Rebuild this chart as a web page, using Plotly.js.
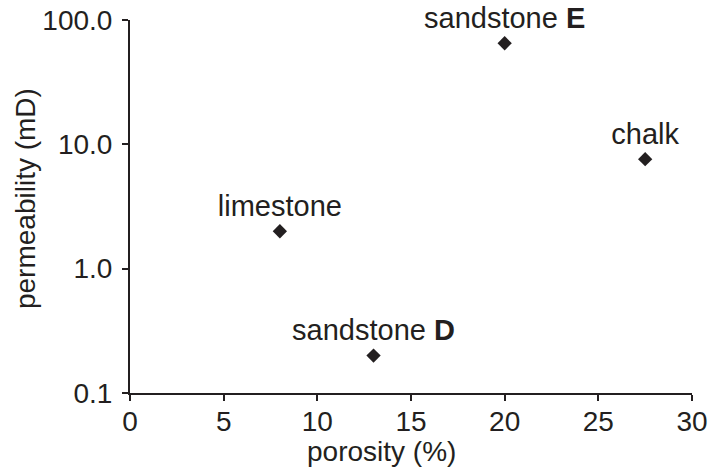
<!DOCTYPE html>
<html>
<head>
<meta charset="utf-8">
<script src="https://cdn.plot.ly/plotly-3.0.1.min.js"></script>
<style>html,body{margin:0;padding:0;background:#fff;}#chart{width:709px;height:469px;}</style>
</head>
<body>
<div id="chart"></div>
<script>
const rockNames = ["limestone", "sandstone <b>D</b>", "sandstone <b>E</b>", "chalk"];
const porosity = [8, 13, 20, 27.5];
const permeability = [2.0, 0.2, 65, 7.6];
const yTickVals = [0.1, 1, 10, 100];
const yTickText = ["0.1", "1.0", "10.0", "100.0"];
const xTickVals = [0, 5, 10, 15, 20, 25, 30];
const xTitle = "porosity (%)";
const yTitle = "permeability (mD)";

const ink = "#231f20";
const fontFam = "Liberation Sans, Arial, Helvetica, sans-serif";

const trace = {
  x: porosity,
  y: permeability,
  text: rockNames,
  mode: "markers+text",
  type: "scatter",
  textposition: "top center",
  textfont: {family: fontFam, size: 29, color: ink},
  marker: {symbol: "diamond", size: 11, color: ink},
  cliponaxis: false,
  hoverinfo: "x+y"
};

const layout = {
  width: 709, height: 469,
  margin: {l: 130, r: 17, t: 20, b: 76},
  paper_bgcolor: "#fff", plot_bgcolor: "#fff",
  showlegend: false,
  font: {family: fontFam, size: 28, color: ink},
  xaxis: {
    range: [0, 30], tickvals: xTickVals, ticks: "outside", ticklen: 6, tickwidth: 2, tickcolor: ink,
    showline: true, linewidth: 2, linecolor: ink, showgrid: false, zeroline: false,
    tickfont: {size: 28}, ticklabelstandoff: -4
  },
  yaxis: {
    type: "log", range: [-1, 2], tickvals: yTickVals, ticktext: yTickText,
    ticks: "outside", ticklen: 6, tickwidth: 2, tickcolor: ink,
    showline: true, linewidth: 2, linecolor: ink, showgrid: false, zeroline: false,
    tickfont: {size: 28}, ticklabelstandoff: 4
  },
  annotations: [
    {text: xTitle, xref: "paper", yref: "paper", x: 0.447, y: 0, yshift: -41,
     xanchor: "center", yanchor: "top", showarrow: false, font: {size: 28, color: ink}},
    {text: yTitle, xref: "paper", yref: "paper", x: 0, xshift: -105, y: 0.52,
     xanchor: "center", yanchor: "middle", textangle: -90, showarrow: false, font: {size: 28, color: ink}}
  ]
};

Plotly.newPlot("chart", [trace], layout, {displayModeBar: false, staticPlot: true});
</script>
</body>
</html>
